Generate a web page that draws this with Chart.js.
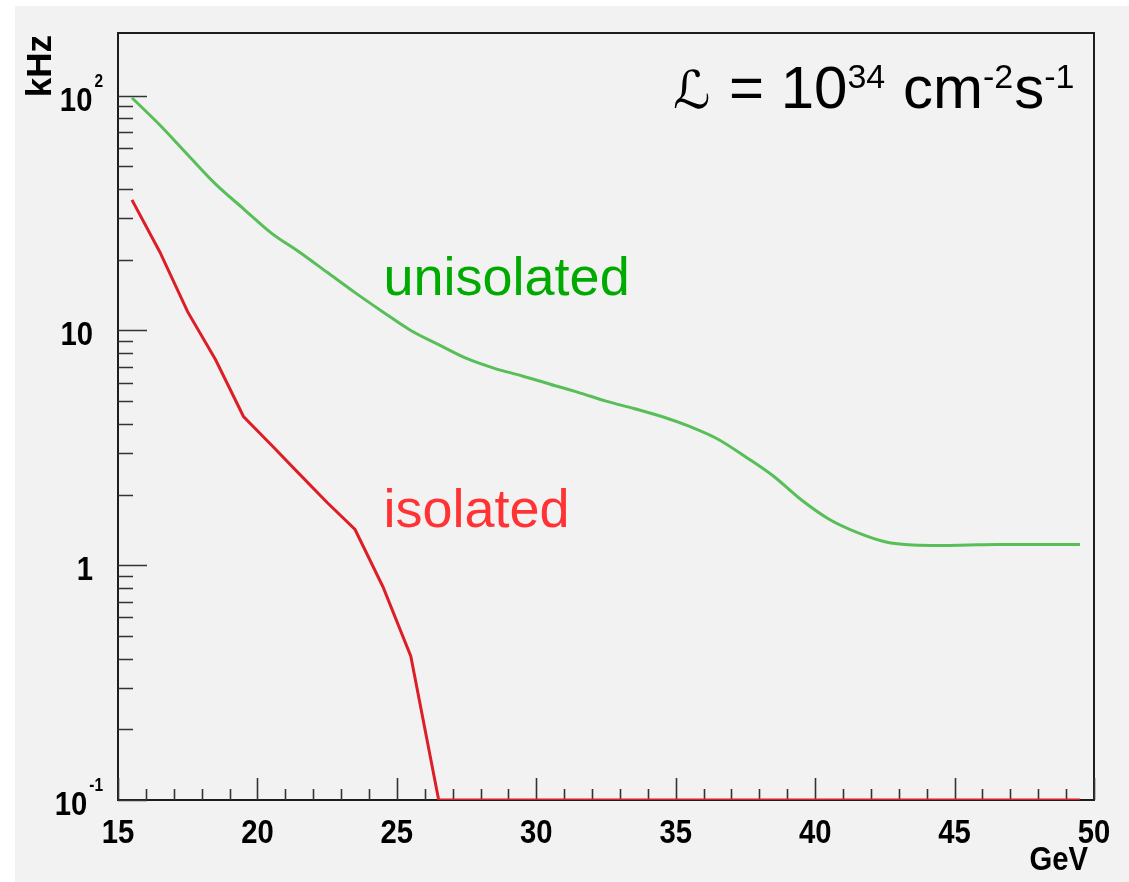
<!DOCTYPE html>
<html><head><meta charset="utf-8">
<script src="https://cdn.jsdelivr.net/npm/chart.js@4/dist/chart.umd.min.js"></script>
<style>
html,body{margin:0;padding:0;background:#fff;width:1129px;height:882px;overflow:hidden}
#wrap{position:absolute;left:15px;top:6px;width:1114px;height:876px;background:#f2f2f2}
canvas{display:block}
</style></head><body>
<div id="wrap"><canvas id="c" width="1114" height="876"></canvas></div>
<script>
// ---- data (bin centres in GeV, rates in kHz) ----
const energyGeV = [15.5,16.5,17.5,18.5,19.5,20.5,21.5,22.5,23.5,24.5,25.5,26.5,27.5,28.5,29.5,30.5,31.5,32.5,33.5,34.5,35.5,36.5,37.5,38.5,39.5,40.5,41.5,42.5,43.5,44.5,45.5,46.5,47.5,48.5,49.5];
const unisolatedKHz = [98,75,56,42,33,26,21.6,17.7,14.5,12.0,10.0,8.7,7.6,6.9,6.4,5.9,5.45,5.0,4.65,4.3,3.9,3.45,2.9,2.4,1.9,1.57,1.38,1.26,1.22,1.215,1.22,1.225,1.225,1.225,1.225];
// zero-rate bins sit on the axis minimum (0.1 kHz)
const isolatedKHz = [36,21.6,12.0,7.5,4.3,3.25,2.45,1.85,1.42,0.81,0.41,0.1,0.1,0.1,0.1,0.1,0.1,0.1,0.1,0.1,0.1,0.1,0.1,0.1,0.1,0.1,0.1,0.1,0.1,0.1,0.1,0.1,0.1,0.1,0.1];
const xTickValues = [15,20,25,30,35,40,45,50];
const xTickLabels = ['15','20','25','30','35','40','45','50'];
const yTickValues = [0.1,1,10,100];
const yTickBase = ['10','1','10','10'];
const yTickExp = ['-1','','','2'];
const xMin = 15, xMax = 50, yMin = 0.1, yMax = 185;

const FONT = '"Liberation Sans", Arial, Helvetica, sans-serif';

function squeezedText(ctx, txt, x, y, sx, align){
  ctx.save();
  ctx.translate(x, y);
  ctx.scale(sx, 1);
  ctx.textAlign = align;
  ctx.fillText(txt, 0, 0);
  ctx.restore();
}

const rootStyle = {
  id: 'rootStyle',
  beforeDatasetsDraw(chart){
    const {ctx, chartArea:a, scales:{x, y}} = chart;
    ctx.save();
    ctx.strokeStyle = '#1e1e1e';
    ctx.lineWidth = 2;
    ctx.strokeRect(a.left, a.top, a.right - a.left, a.bottom - a.top);
    ctx.lineWidth = 1.6;
    ctx.strokeStyle = '#333';
    ctx.beginPath();
    // x ticks (inside, upward)
    for (let v = xMin; v <= xMax; v += 1){
      const px = Math.round(x.getPixelForValue(v)) + 0.5;
      const len = xTickValues.includes(v) ? 22 : 11;
      ctx.moveTo(px, a.bottom); ctx.lineTo(px, a.bottom - len);
    }
    // y ticks (inside, rightward)
    yTickValues.forEach(d => {
      for (let m = 1; m <= 9; m++){
        const v = d * m;
        if (v > yMax) break;
        const py = Math.round(y.getPixelForValue(v)) + 0.5;
        const len = m === 1 ? 29 : 15;
        ctx.moveTo(a.left, py); ctx.lineTo(a.left + len, py);
      }
    });
    ctx.stroke();
    ctx.restore();
  },
  afterDraw(chart){
    const {ctx, chartArea:a, scales:{x, y}} = chart;
    ctx.save();
    ctx.fillStyle = '#000';
    ctx.textBaseline = 'alphabetic';
    // x tick labels
    ctx.font = 'bold 34px ' + FONT;
    xTickValues.forEach((v, i) => {
      squeezedText(ctx, xTickLabels[i], x.getPixelForValue(v), a.bottom + 43, 0.86, 'center');
    });
    // y tick labels
    yTickValues.forEach((v, i) => {
      const py = y.getPixelForValue(v);
      if (yTickExp[i]){
        ctx.font = 'bold 18px ' + FONT;
        const ew = ctx.measureText(yTickExp[i]).width * 0.86;
        const expRight = a.left - 15;
        squeezedText(ctx, yTickExp[i], expRight, py - 9, 0.86, 'right');
        ctx.font = 'bold 34px ' + FONT;
        squeezedText(ctx, yTickBase[i], expRight - ew - 2, py + 15, 0.86, 'right');
      } else {
        ctx.font = 'bold 34px ' + FONT;
        squeezedText(ctx, yTickBase[i], a.left - 25, py + 15, 0.86, 'right');
      }
    });
    // axis titles
    ctx.font = 'bold 35px ' + FONT;
    ctx.save();
    ctx.translate(a.left - 67, a.top + 2);
    ctx.rotate(-Math.PI / 2);
    ctx.textAlign = 'right';
    ctx.fillText('kHz', 0, 0);
    ctx.restore();
    ctx.font = 'bold 34px ' + FONT;
    squeezedText(ctx, 'GeV', a.right - 6, a.bottom + 70, 0.86, 'right');

    // curve labels
    ctx.font = '54px ' + FONT;
    ctx.textAlign = 'left';
    ctx.fillStyle = '#00aa00';
    ctx.fillText('unisolated', x.getPixelForValue(24.52), y.getPixelForValue(10) - 35.5);
    ctx.fillStyle = '#ff3333';
    ctx.fillText('isolated', x.getPixelForValue(24.52), y.getPixelForValue(1) - 38);

    // luminosity label
    ctx.fillStyle = '#000';
    let cx = 658, base = 102;
    ctx.font = 'italic 52px "DejaVu Serif", "DejaVu Sans", serif';
    ctx.fillText('\u2112', cx, base);
    cx = 714;
    const parts = [
      ['= 10', 60, 0], ['34', 34, -20], [' cm', 60, 0], ['-2', 34, -20], ['s', 60, 0], ['-1', 34, -20]
    ];
    parts.forEach(([t, s, dy]) => {
      ctx.font = s + 'px ' + FONT;
      ctx.fillText(t, cx, base + dy);
      cx += ctx.measureText(t).width + (s === 34 ? 1 : 0);
    });
    ctx.restore();
  }
};

new Chart(document.getElementById('c'), {
  type: 'line',
  data: {
    datasets: [
      {
        label: 'unisolated',
        data: energyGeV.map((e, i) => ({x: e, y: unisolatedKHz[i]})),
        borderColor: '#58bf58',
        borderWidth: 3,
        pointRadius: 0,
        cubicInterpolationMode: 'monotone',
        fill: false
      },
      {
        label: 'isolated',
        data: energyGeV.map((e, i) => ({x: e, y: isolatedKHz[i]})),
        borderColor: '#dd1e26',
        borderWidth: 3,
        pointRadius: 0,
        tension: 0,
        fill: false
      }
    ]
  },
  options: {
    responsive: false,
    animation: false,
    devicePixelRatio: 1,
    layout: { padding: { left: 103, top: 27, right: 35, bottom: 82 } },
    plugins: { legend: { display: false }, tooltip: { enabled: false } },
    scales: {
      x: { type: 'linear', min: xMin, max: xMax, display: false },
      y: { type: 'logarithmic', min: yMin, max: yMax, display: false }
    }
  },
  plugins: [rootStyle]
});
</script>
</body></html>
